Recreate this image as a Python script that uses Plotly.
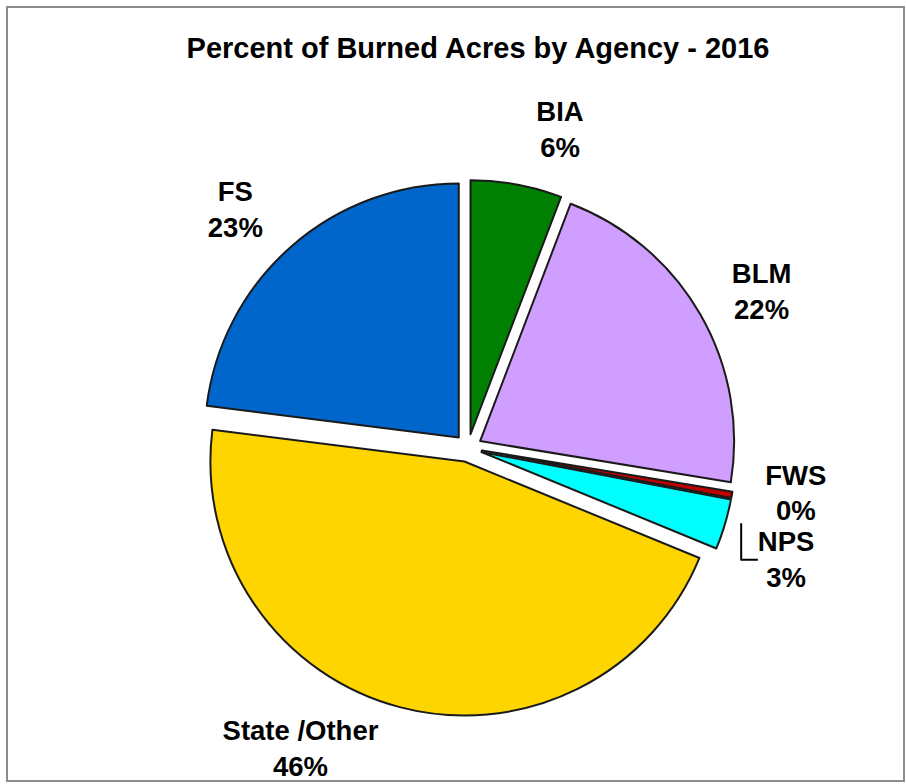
import plotly.graph_objects as go

agencies = ["BIA", "BLM", "FWS", "NPS", "State /Other", "FS"]
percent_values = [5.8, 21.8, 0.4, 3.2, 45.8, 23.0]
slice_colors = ["#008000", "#CF9EFF", "#C00000", "#00FFFF", "#FFD500", "#0066CC"]

title_text = "Percent of Burned Acres by Agency - 2016"

W, H = 906, 784
cx, cy = 468, 448
half_pie = 268
label_cy = 442
half_labels = 285
pull_amount = 0.055

label_font = dict(family="Liberation Sans, Arial, sans-serif", size=27.5, color="#000000", weight="bold")


def dom(half, ccx, ccy):
    return dict(
        x=[(ccx - half) / W, (ccx + half) / W],
        y=[1 - (ccy + half) / H, 1 - (ccy - half) / H],
    )


# visible pie (no text)
pie_main = go.Pie(
    labels=agencies,
    values=percent_values,
    sort=False,
    direction="clockwise",
    rotation=0,
    pull=[pull_amount] * len(agencies),
    marker=dict(colors=slice_colors, line=dict(color="#1A1A1A", width=2)),
    textinfo="none",
    showlegend=False,
    hoverinfo="label+percent",
    automargin=False,
    domain=dom(half_pie, cx, cy),
)

# transparent pie carrying the outside labels a bit further out
pie_labels = go.Pie(
    labels=agencies,
    values=percent_values,
    sort=False,
    direction="clockwise",
    rotation=0,
    pull=[pull_amount] * len(agencies),
    marker=dict(colors=["rgba(0,0,0,0)"] * len(agencies), line=dict(width=0)),
    texttemplate="%{label}<br>%{percent:.0%}",
    textposition="outside",
    textfont=label_font,
    showlegend=False,
    hoverinfo="skip",
    automargin=False,
    domain=dom(half_labels, cx, label_cy),
)

fig = go.Figure([pie_labels, pie_main])

fig.update_layout(
    width=W,
    height=H,
    autosize=False,
    margin=dict(l=0, r=0, t=0, b=0, pad=0, autoexpand=False),
    paper_bgcolor="#FFFFFF",
    plot_bgcolor="#FFFFFF",
    title=dict(
        text=title_text,
        x=478 / W,
        xanchor="center",
        y=1 - 48 / H,
        yanchor="middle",
        automargin=False,
        font=dict(family="Liberation Sans, Arial, sans-serif", size=29, color="#000000", weight="bold"),
    ),
    shapes=[
        dict(
            type="rect", xref="paper", yref="paper",
            x0=7 / W, x1=904 / W, y0=1 - 781 / H, y1=1 - 7 / H,
            line=dict(color="#8C8C8C", width=2), fillcolor="rgba(0,0,0,0)", layer="below",
        )
    ],
)

fig.write_html(
    "out.html",
    config={"displayModeBar": False},
    post_script="document.body.style.margin='0px'; document.body.style.overflow='hidden';",
)
